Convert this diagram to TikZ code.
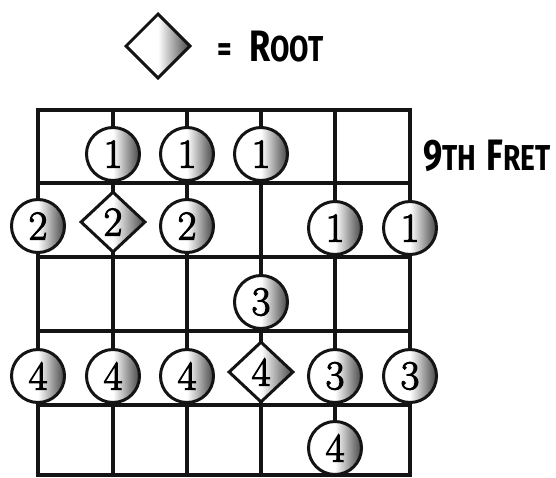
\documentclass[tikz,border=0pt]{standalone}
\usepackage{fontspec}
\newfontfamily\handfont[FakeStretch=0.78]{Fira Sans}
\newfontfamily\digitfont[FakeBold=2.5]{Latin Modern Roman}
\usetikzlibrary{shapes.geometric}
\newcommand\capbig[1]{{\fontsize{44}{44}\selectfont #1}}
\newcommand\capsmall[1]{{\fontsize{36}{36}\selectfont #1}}
\tikzset{
  gridline/.style={line width=3.2pt, draw=black!92, line cap=rect},
  ballshade/.style={left color=white, right color=black!72, middle color=white},
  dot/.style={circle, draw=black!92, line width=3pt, minimum size=53pt, inner sep=0pt, ballshade,
    font=\digitfont\fontsize{41}{41}\selectfont},
  rootdot/.style={diamond, draw=black!92, line width=3pt, minimum width=65pt, minimum height=61pt,
    inner sep=0pt, ballshade, font=\digitfont\fontsize{41}{41}\selectfont},
  lbl/.style={font=\handfont\bfseries, inner sep=0pt}
}
\begin{document}
\begin{tikzpicture}[x=1pt,y=-1pt]
\useasboundingbox (0,0) rectangle (556,477);
% legend
\node[rootdot, minimum width=65pt, minimum height=65pt] (legend) at (158,46) {};
\node[lbl, anchor=base] (eq) at (225,61) {\capsmall{=}};
\node[lbl, anchor=base west] (rootlbl) at (249,61) {\capbig{R}\capsmall{OOT}};
% fretboard grid
\draw[gridline] (38,110) rectangle (410,475);
\foreach \x in {113,187,261,335} \draw[gridline] (\x,110) -- (\x,475);
\foreach \y in {183,257,331,405} \draw[gridline] (38,\y) -- (410,\y);
\node[lbl, anchor=base west] (fret) at (423,170) {\capbig{9}\capsmall{TH}\hspace{10pt}\capbig{F}\capsmall{RET}};
% row 1
\node[dot] (a2) at (113,154) {1};
\node[dot] (a3) at (187,154) {1};
\node[dot] (a4) at (261,154) {1};
% row 2
\node[dot] (b1) at (38,226) {2};
\node[rootdot] (b2) at (113,222) {2};
\node[dot] (b3) at (187,226) {2};
\node[dot] (b5) at (335,228) {1};
\node[dot] (b6) at (410,228) {1};
% row 3
\node[dot] (c4) at (261,302) {3};
% row 4
\node[dot] (d1) at (38,376) {4};
\node[dot] (d2) at (113,376) {4};
\node[dot] (d3) at (187,376) {4};
\node[rootdot] (d4) at (261,372) {4};
\node[dot] (d5) at (335,376) {3};
\node[dot] (d6) at (410,376) {3};
% row 5
\node[dot] (e5) at (335,448) {4};
\end{tikzpicture}
\end{document}
